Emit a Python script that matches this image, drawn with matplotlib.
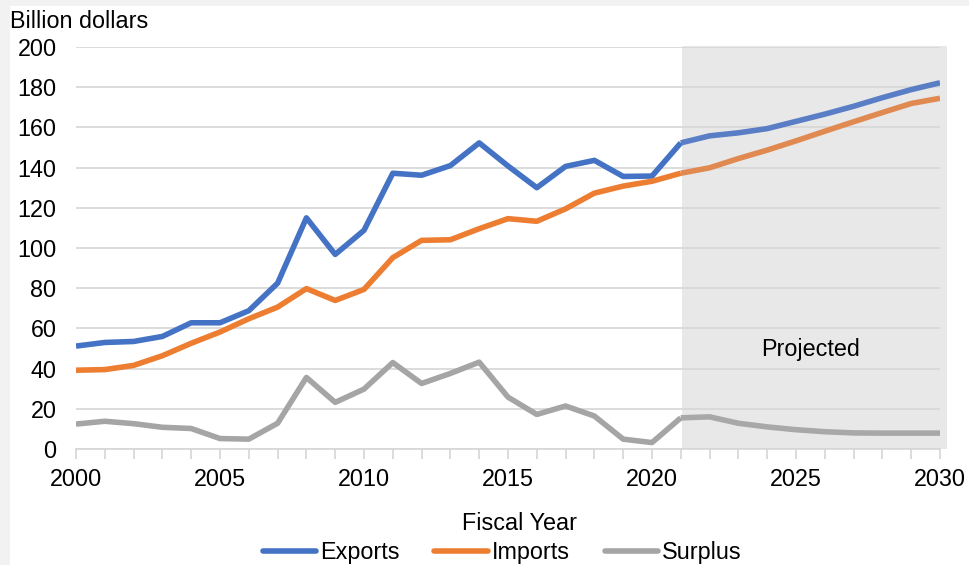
import matplotlib
matplotlib.use("Agg")
import matplotlib.pyplot as plt
from matplotlib.patches import Rectangle
from matplotlib.lines import Line2D

plt.rcParams['font.family'] = ['Liberation Sans', 'DejaVu Sans']

years = list(range(2000, 2031))
exports = [51.2, 53.0, 53.5, 56.0, 62.8, 62.8, 68.8, 82.5, 115.0, 96.8, 108.8,
           137.2, 136.2, 141.0, 152.3, 140.8, 130.0, 140.6, 143.6, 135.6, 135.8,
           152.3, 155.8, 157.3, 159.4, 163.0, 166.6, 170.5, 174.8, 178.8, 182.2]
imports = [39.2, 39.5, 41.6, 46.4, 52.6, 58.2, 64.8, 70.6, 79.8, 73.9, 79.4,
           95.2, 103.8, 104.1, 109.6, 114.6, 113.3, 119.5, 127.3, 130.8, 133.2,
           137.2, 139.9, 144.5, 148.7, 153.3, 158.1, 162.8, 167.4, 171.9, 174.5]
surplus = [12.4, 13.8, 12.6, 10.8, 10.2, 5.2, 4.9, 12.8, 35.6, 23.2, 29.8,
           43.0, 32.6, 37.6, 43.2, 25.8, 17.2, 21.4, 16.4, 4.9, 3.2,
           15.5, 16.0, 12.8, 11.0, 9.6, 8.6, 8.0, 7.9, 7.9, 7.9]
series_names = ["Exports", "Imports", "Surplus"]
hist_colors = ["#4472C4", "#ED7D31", "#A5A5A5"]
proj_colors = ["#5A7EC6", "#E08A52", "#A8A8A8"]
proj_start = 2021
yticks = [0, 20, 40, 60, 80, 100, 120, 140, 160, 180, 200]
xlabels = [2000, 2005, 2010, 2015, 2020, 2025, 2030]

FS = 16.8
W, H = 969, 565
fig = plt.figure(figsize=(W / 100, H / 100), dpi=100, facecolor="#F2F2F2")
fig.patches.append(Rectangle((10 / W, 0), 1 - 10 / W, 1 - 6 / H, transform=fig.transFigure,
                             facecolor="white", edgecolor="none", zorder=-10))

ax = fig.add_axes([76 / W, (H - 449) / H, 864 / W, 402 / H])
ax.set_facecolor("none")
ax.set_xlim(2000, 2030)
ax.set_ylim(0, 200)

# projected shading
ax.add_patch(Rectangle((proj_start + 0.03, 0), 2030.2 - proj_start, 200.3,
                       facecolor="#E8E8E8", edgecolor="none", zorder=0.2, clip_on=False))

ax.set_axisbelow(True)
ax.yaxis.grid(True, color="#D6D6D6", linewidth=1.2)
ax.set_yticks(yticks)
ax.set_xticks(years, minor=False)
ax.set_xticklabels([str(y) if y in xlabels else "" for y in years])
ax.tick_params(axis="y", length=0, labelsize=FS, pad=14)
ax.tick_params(axis="x", length=7, color="#D6D6D6", width=1.2, labelsize=FS, pad=7)
for s in ["top", "right", "left"]:
    ax.spines[s].set_visible(False)
ax.spines["bottom"].set_color("#D6D6D6")
ax.spines["bottom"].set_linewidth(1.2)

data = [exports, imports, surplus]
idx = years.index(proj_start)
handles = []
for vals, hc, pc, name in zip(data, hist_colors, proj_colors, series_names):
    ax.plot(years[:idx + 1], vals[:idx + 1], color=hc, lw=4.0, solid_joinstyle="round",
            solid_capstyle="butt", zorder=3)
    ax.plot(years[idx:], vals[idx:], color=pc, lw=4.0, solid_joinstyle="round",
            solid_capstyle="butt", zorder=3)
    handles.append(Line2D([], [], color=hc, lw=4.0, solid_capstyle="round", label=name))

ax.text(2025.5, 49.5, "Projected", fontsize=FS, ha="center", va="center", zorder=4)

fig.text(10 / W, 1 - 21 / H, "Billion dollars", fontsize=FS, ha="left", va="center")
fig.text(519 / W, 1 - 524 / H, "Fiscal Year", fontsize=FS, ha="center", va="center")

fig.legend(handles=handles, loc="center", bbox_to_anchor=(502 / W, 1 - 553 / H),
           ncol=3, frameon=False, fontsize=FS, handlelength=2.3, handletextpad=0.15,
           columnspacing=1.5, borderpad=0, borderaxespad=0)

fig.savefig("out.png", dpi=100, facecolor=fig.get_facecolor())
